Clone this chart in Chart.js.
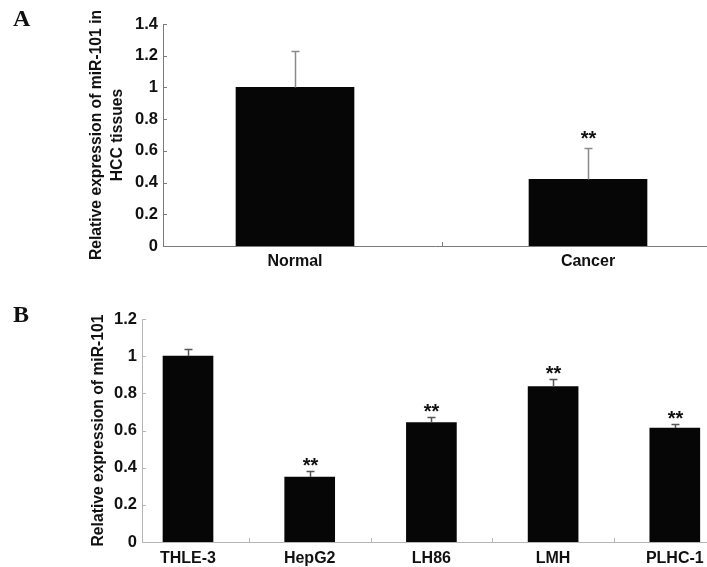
<!DOCTYPE html>
<html><head><meta charset="utf-8">
<script src="https://cdn.jsdelivr.net/npm/chart.js@4.4.0/dist/chart.umd.min.js"></script>
<style>
html,body{margin:0;padding:0;background:#fff;overflow:hidden;width:707px;height:567px;}
.panel{position:absolute;left:0;}
.lbl{position:absolute;font-family:"Liberation Serif","Times New Roman",serif;font-weight:bold;font-size:24px;color:#111;line-height:1;}
</style></head><body>
<canvas id="cA" class="panel" style="top:0" width="707" height="280"></canvas>
<canvas id="cB" class="panel" style="top:280px" width="707" height="287"></canvas>
<div class="lbl" style="left:13px;top:6px">A</div>
<div class="lbl" style="left:13px;top:302px">B</div>
<script>
// ---- Panel A data ----
const categoriesA = ['Normal', 'Cancer'];
const valuesA = [1.0, 0.42];
const errorsA = [0.23, 0.20];
const signifA = ['', '**'];
const yTitleA = ['Relative expression of miR-101 in', 'HCC tissues'];

// ---- Panel B data ----
const categoriesB = ['THLE-3', 'HepG2', 'LH86', 'LMH', 'PLHC-1'];
const valuesB = [1.0, 0.35, 0.643, 0.836, 0.613];
const errorsB = [0.04, 0.03, 0.027, 0.04, 0.023];
const signifB = ['', '**', '**', '**', '**'];
const yTitleB = 'Relative expression of miR-101';

const FONT = '"Liberation Sans", Arial, sans-serif';

const decoPlugin = {
  id: 'deco',
  afterDatasetsDraw(chart, args, o) {
    const ctx = chart.ctx;
    const xs = chart.scales.x, ys = chart.scales.y;
    const area = chart.chartArea;
    const meta = chart.getDatasetMeta(0);
    ctx.save();
    // inward y ticks
    ctx.strokeStyle = o.axisColor;
    ctx.lineWidth = 1;
    ys.ticks.forEach(t => {
      const py = Math.round(ys.getPixelForValue(t.value)) + 0.5;
      ctx.beginPath();
      ctx.moveTo(area.left, py);
      ctx.lineTo(area.left + 4, py);
      ctx.stroke();
    });
    // inward x divider ticks
    for (let i = 0; i < o.n; i++) {
      const v = i + 0.5;
      if (v > xs.max) break;
      const px = Math.round(xs.getPixelForValue(v)) + 0.5;
      ctx.beginPath();
      ctx.moveTo(px, area.bottom);
      ctx.lineTo(px, area.bottom - 4);
      ctx.stroke();
    }
    // error bars + significance
    meta.data.forEach((bar, i) => {
      const v = o.values[i], e = o.errors[i];
      const x = Math.round(bar.x) + 0.5;
      const yb = ys.getPixelForValue(v);
      const yt = Math.round(ys.getPixelForValue(v + e)) + 0.5;
      ctx.strokeStyle = o.errColor;
      ctx.lineWidth = o.errWidth;
      ctx.beginPath();
      ctx.moveTo(x, yb);
      ctx.lineTo(x, yt);
      ctx.moveTo(x - 4, yt);
      ctx.lineTo(x + 4, yt);
      ctx.stroke();
      if (o.signif[i]) {
        ctx.fillStyle = '#111';
        ctx.font = 'bold 20px ' + FONT;
        ctx.textAlign = 'center';
        ctx.textBaseline = 'alphabetic';
        ctx.fillText(o.signif[i], x, yt - o.starGap + 11.5);
      }
    });
    ctx.restore();
  }
};

function fmt(v) { return String(+Number(v).toFixed(1)); }

function makeChart(id, cats, vals, errs, sig, title, o) {
  return new Chart(document.getElementById(id), {
    type: 'bar',
    data: {
      datasets: [{
        data: cats.map((c, i) => ({ x: i, y: vals[i] })),
        backgroundColor: '#060606',
        borderWidth: 0,
        barThickness: o.barW
      }]
    },
    options: {
      responsive: false,
      animation: false,
      events: [],
      layout: { padding: { left: 0, right: 0, top: o.top, bottom: 0 } },
      plugins: {
        legend: { display: false },
        tooltip: { enabled: false },
        deco: { values: vals, errors: errs, signif: sig, n: cats.length,
                axisColor: o.axisColor, errColor: o.errColor, errWidth: o.errWidth, starGap: o.starGap }
      },
      scales: {
        x: {
          type: 'linear',
          offset: false,
          min: o.xmin, max: o.xmax,
          afterBuildTicks: s => { s.ticks = cats.map((c, i) => ({ value: i })); },
          afterFit: s => { s.height = o.xh; s.paddingLeft = 0; s.paddingRight = 0; },
          ticks: {
            callback: v => cats[v] !== undefined ? cats[v] : '',
            color: '#111',
            font: { family: FONT, size: 16, weight: 'bold' },
            padding: o.xpad,
            maxRotation: 0, autoSkip: false
          },
          grid: { display: false, drawTicks: false, offset: false },
          border: { display: true, color: o.axisColor, width: 1 }
        },
        y: {
          min: 0, max: o.ymax,
          afterFit: s => { s.width = o.yw; },
          ticks: {
            stepSize: 0.2,
            callback: v => fmt(v),
            color: '#111',
            font: { family: FONT, size: 16.5, weight: 'bold' },
            padding: o.ypad
          },
          grid: { display: false, drawTicks: false },
          border: { display: true, color: o.axisColor, width: 1 },
          title: {
            display: true,
            text: title,
            color: '#111',
            font: { family: FONT, size: 15.7, weight: 'bold', lineHeight: o.tlh },
            padding: { top: o.tpad, bottom: 0 }
          }
        }
      }
    },
    plugins: [decoPlugin]
  });
}

makeChart('cA', categoriesA, valuesA, errorsA, signifA, yTitleA, {
  barW: 118, top: 24, xmin: -(295 - 163) / 293, xmax: -(295 - 163) / 293 + (707 - 163) / 293,
  xh: 34, xpad: 6, ymax: 1.4, yw: 163, ypad: 5, tlh: 1.34, tpad: 86.5,
  axisColor: '#7a7a7a', errColor: '#8a8a8a', errWidth: 1.5, starGap: 15
});

makeChart('cB', categoriesB, valuesB, errorsB, signifB, yTitleB, {
  barW: 50, top: 39, xmin: -(188 - 142) / 121.7, xmax: -(188 - 142) / 121.7 + (707 - 142) / 121.7,
  xh: 25, xpad: 7, ymax: 1.2, yw: 142, ypad: 5, tlh: 1.2, tpad: 89.6,
  axisColor: '#b5b5b5', errColor: '#555', errWidth: 1.5, starGap: 11
});
</script>
</body></html>
